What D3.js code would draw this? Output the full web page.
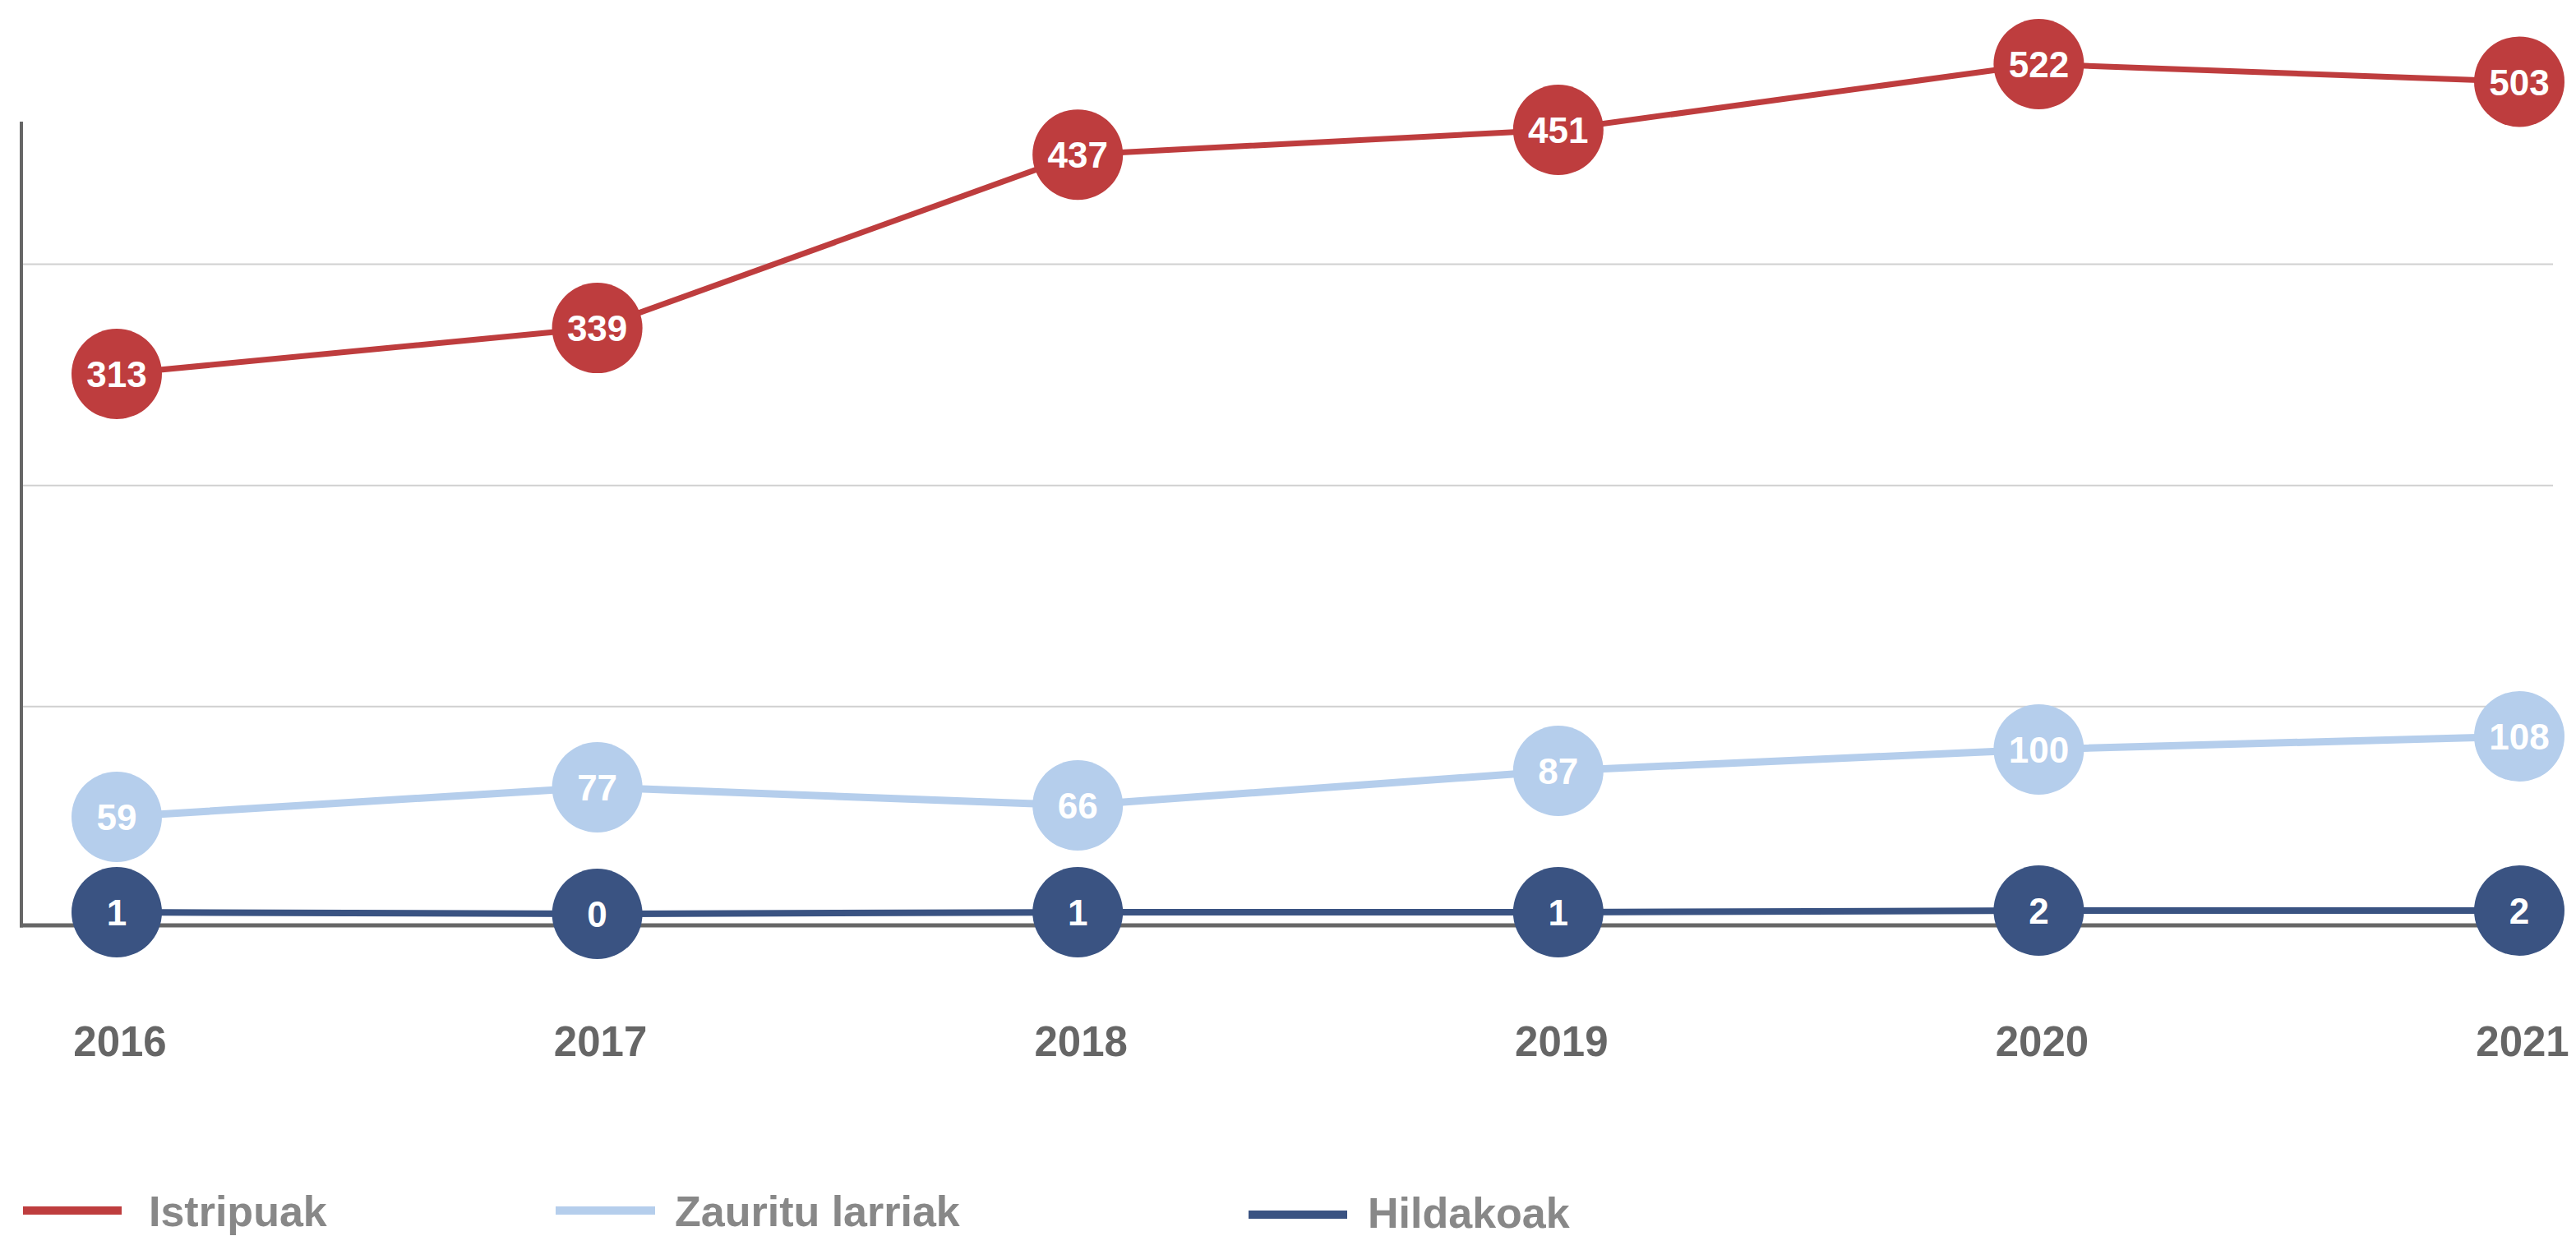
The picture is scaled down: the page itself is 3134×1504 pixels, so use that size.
<!DOCTYPE html>
<html>
<head>
<meta charset="utf-8">
<script src="https://cdn.jsdelivr.net/npm/d3@7"></script>
<style>
  html, body { margin: 0; padding: 0; background: #fff; overflow: hidden; }
  svg { display: block; font-family: "Liberation Sans", Arial, Helvetica, sans-serif; }
</style>
</head>
<body>
<div id="chart"></div>
<script>
// Data
const years = ["2016", "2017", "2018", "2019", "2020", "2021"];
const istripuak = [313, 339, 437, 451, 522, 503];
const zaurituLarriak = [59, 77, 66, 87, 100, 108];
const hildakoak = [1, 0, 1, 1, 2, 2];
const seriesNames = ["Istripuak", "Zauritu larriak", "Hildakoak"];
const gridValues = [125, 250, 375];

const width = 3134;
const height = 1504;
const colors = ["#be3d3e", "#b5ceec", "#3a5382"];
const lineWidths = [7, 9, 8];

const svg = d3.select("#chart").append("svg")
  .attr("width", width)
  .attr("height", height);

// Plot frame
const plotLeft = 26, plotRight = 3106, plotTop = 148, plotBottom = 1126;

const x = d3.scalePoint().domain(years).range([142, 3065]);

// The picture is not drawn to one linear scale: it is looser at the
// bottom and squeezed at the top, so the scale bends a little
const y = d3.scaleLinear()
  .domain([-6, 110, 451, 522])
  .range([1124, 892, 158, 78]);

// Gridlines
svg.append("g")
  .selectAll("line")
  .data(gridValues)
  .join("line")
  .attr("x1", plotLeft + 2)
  .attr("x2", plotRight)
  .attr("y1", (d) => y(d))
  .attr("y2", (d) => y(d))
  .attr("stroke", "#d0d0d0")
  .attr("stroke-width", 2);

// Axis lines
svg.append("line")
  .attr("x1", plotLeft).attr("x2", plotLeft)
  .attr("y1", plotTop).attr("y2", plotBottom + 2.5)
  .attr("stroke", "#666").attr("stroke-width", 4);
svg.append("line")
  .attr("x1", plotLeft - 2).attr("x2", plotRight)
  .attr("y1", plotBottom).attr("y2", plotBottom)
  .attr("stroke", "#666").attr("stroke-width", 5);

// Year labels
svg.append("g")
  .selectAll("text")
  .data(years)
  .join("text")
  .attr("x", (d) => x(d) + 4)
  .attr("y", 1285)
  .attr("text-anchor", "middle")
  .attr("font-size", 51)
  .attr("font-weight", "bold")
  .attr("fill", "#666")
  .text((d) => d);

const series = [istripuak, zaurituLarriak, hildakoak].map((values, i) => ({
  name: seriesNames[i],
  color: colors[i],
  lineWidth: lineWidths[i],
  points: values.map((v, j) => ({ year: years[j], value: v })),
}));

const line = d3.line()
  .x((d) => x(d.year))
  .y((d) => y(d.value));

// Lines first, markers on top
svg.append("g")
  .selectAll("path")
  .data(series.slice().reverse())
  .join("path")
  .attr("d", (d) => line(d.points))
  .attr("fill", "none")
  .attr("stroke", (d) => d.color)
  .attr("stroke-width", (d) => d.lineWidth);

const markers = svg.append("g")
  .selectAll("g")
  .data(series.slice().reverse())
  .join("g");

const dots = markers.selectAll("g")
  .data((d) => d.points.map((p) => ({ ...p, color: d.color })))
  .join("g")
  .attr("transform", (d) => `translate(${x(d.year)},${y(d.value)})`);

dots.append("circle")
  .attr("r", 55)
  .attr("fill", (d) => d.color);

dots.append("text")
  .attr("text-anchor", "middle")
  .attr("dy", "0.37em")
  .attr("font-size", 44)
  .attr("font-weight", "bold")
  .attr("fill", "#fff")
  .text((d) => d.value);

// Legend
const legendLayout = [
  { x0: 28, x1: 148, tx: 181, ly: 1473, ty: 1492 },
  { x0: 676, x1: 797, tx: 821, ly: 1473, ty: 1492 },
  { x0: 1519, x1: 1639, tx: 1664, ly: 1478, ty: 1494 },
];

const legend = svg.append("g")
  .selectAll("g")
  .data(series)
  .join("g");

legend.append("line")
  .attr("x1", (d, i) => legendLayout[i].x0)
  .attr("x2", (d, i) => legendLayout[i].x1)
  .attr("y1", (d, i) => legendLayout[i].ly)
  .attr("y2", (d, i) => legendLayout[i].ly)
  .attr("stroke", (d) => d.color)
  .attr("stroke-width", 10);

legend.append("text")
  .attr("x", (d, i) => legendLayout[i].tx)
  .attr("y", (d, i) => legendLayout[i].ty)
  .attr("font-size", 52)
  .attr("font-weight", "bold")
  .attr("fill", "#888")
  .text((d) => d.name);
</script>
</body>
</html>
